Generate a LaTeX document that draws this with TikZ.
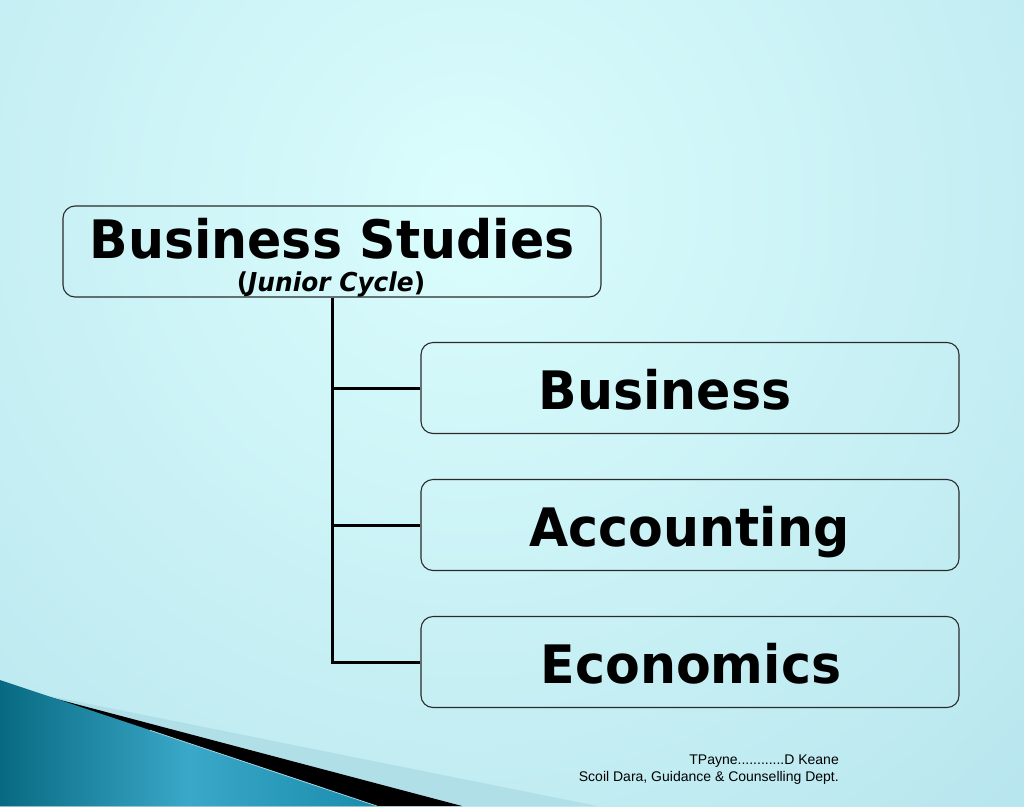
\documentclass[tikz,border=0pt]{standalone}
\usepackage{fontspec}
\setmainfont{DejaVu Sans}[FakeStretch=0.955]
\newfontfamily\footfont{Liberation Sans}
\definecolor{bgin}{HTML}{DBFDFD}
\definecolor{bgout}{HTML}{A3D8E5}
\definecolor{band}{HTML}{B0DFE8}
\definecolor{tealdk}{HTML}{086A82}
\definecolor{teallt}{HTML}{3AA8C8}
\definecolor{tealmd}{HTML}{1A8CAD}
\definecolor{boxline}{HTML}{2A2A2A}
\tikzset{bx/.style = {draw=boxline, line width=1.1pt, rounded corners=12pt, minimum width=538pt, minimum height=91pt, inner sep=0pt},
           bt/.style = {anchor=base, font=\fontsize{53}{60}\selectfont\bfseries, inner sep=0pt},
           tr/.style = {line width=3pt, black},
           ft/.style = {anchor=base east, font=\footfont\fontsize{14}{16}\selectfont, inner sep=0pt}}

\begin{document}
\begin{tikzpicture}[x=1pt, y=-1pt]
    \useasboundingbox (0,0) rectangle (1024,806);
    % background
    \begin{scope}
      \clip (0,0) rectangle (1024,806);
      \shade[inner color=bgin, outer color=bgout] (470,200) circle (1300);
      \fill[band] (0,686) -- (597,806) -- (0,806) -- cycle;
      \fill[black] (0,684) -- (462,806) -- (0,806) -- cycle;
      \shade[left color=tealdk, right color=tealmd, middle color=teallt] (0,680) -- (377,806) -- (0,806) -- cycle;
      \draw[white!50!teallt, line width=0.8pt] (150,730.3) -- (377,806);
    \end{scope}
    % boxes
    \node[bx] (title) at (332,251.5) {};
    \node[bx] (bus) at (690,388) {}; \node[bx] (acc) at (690,525) {}; \node[bx] (eco) at (690,662) {};
    \node[bt] (titletxt) at (332,258) {Business Studies};
    \node[anchor=base, font=\fontsize{26}{30}\selectfont\bfseries, inner sep=0pt] (jc) at (331,291) {(\textit{Junior Cycle})};
    \node[bt] (bustxt) at (665,409.5) {Business};
    \node[bt] (acctxt) at (689.5,546.5) {Accounting};
    \node[bt] (ecotxt) at (691,683.5) {Economics};
    % tree
    \draw[tr] (title.south) |- (eco.west);
    \draw[tr] (title.south |- bus.west) -- (bus.west);
    \draw[tr] (title.south |- acc.west) -- (acc.west);
    % footer
    \node[ft] (ft1) at (839,764) {TPayne............D Keane};
    \node[ft] (ft2) at (839,781) {Scoil Dara, Guidance \& Counselling Dept.};
  \end{tikzpicture}
\end{document}
